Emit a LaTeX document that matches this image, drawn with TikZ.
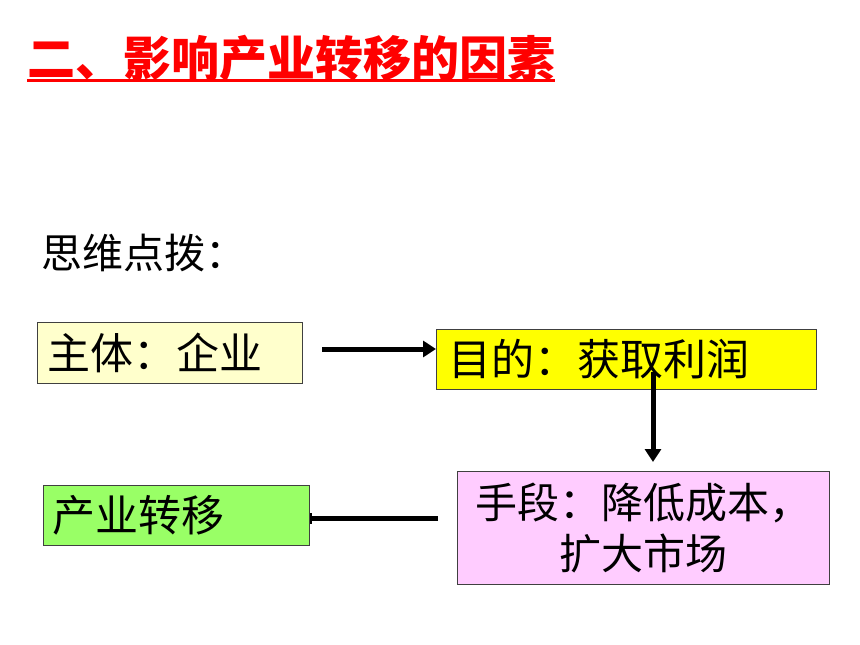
\documentclass[tikz,border=0pt]{standalone}
\usepackage{fontspec}
\newfontfamily\cjk{Noto Sans CJK SC}
\usetikzlibrary{arrows.meta}
\definecolor{titlered}{HTML}{FF0000}
\definecolor{paleyellow}{HTML}{FFFFCC}
\definecolor{brightyellow}{HTML}{FFFF00}
\definecolor{palepink}{HTML}{FFCCFF}
\definecolor{lightgreen}{HTML}{99FF66}
\definecolor{boxborder}{HTML}{404040}
\begin{document}
\begin{tikzpicture}[x=1pt,y=-1pt,
  box/.style={draw=boxborder, line width=1.1pt, anchor=north west, inner ysep=0pt, font=\cjk\fontsize{43}{50}\selectfont},
  conn/.style={line width=5pt, black},
  tip/.style={-{Triangle[length=13pt,width=16pt]}}]
\fill[white] (0,0) rectangle (860,645);
\useasboundingbox (0,0) rectangle (860,645);
% title
\node[anchor=west, inner sep=0pt, text=titlered, font=\cjk\bfseries\fontsize{48}{56}\selectfont] (title) at (27,58) {二、影响产业转移的因素};
\draw[titlered, line width=3pt] (title.south west |- 0,80) -- (title.south east |- 0,80);
% hint
\node[anchor=west, inner sep=0pt, font=\cjk\fontsize{41}{46}\selectfont] (hint) at (41,253) {思维点拨：};
% boxes
\node[box, fill=paleyellow, minimum width=265, minimum height=61, inner xsep=10pt, text width=245pt, align=left] (subject) at (37,322) {主体：企业};
\node[box, fill=brightyellow, minimum width=380, minimum height=60, inner xsep=12pt, text width=356pt, align=left] (goal) at (436,329) {目的：获取利润};
\node[box, fill=palepink, minimum width=372, minimum height=113, inner xsep=8pt, text width=356pt, align=center, font=\cjk\fontsize{42}{51}\selectfont] (means) at (457,471) {手段：降低成本，\\扩大市场};
\node[box, fill=lightgreen, minimum width=266, minimum height=60, inner xsep=9pt, text width=248pt, align=left] (transfer) at (43,485) {产业转移};
% connectors
\coordinate (a1s) at (322,349);
\draw[conn, tip] (a1s) -- (a1s -| goal.west);
\coordinate (a2s) at (653,372);
\draw[conn, tip, shorten >=9pt] (a2s) -- (a2s |- means.north);
\coordinate (a3s) at (438,518);
\draw[conn, -{Bar[width=11pt,line width=2pt]}] (a3s) -- (a3s -| transfer.east);
\end{tikzpicture}
\end{document}
